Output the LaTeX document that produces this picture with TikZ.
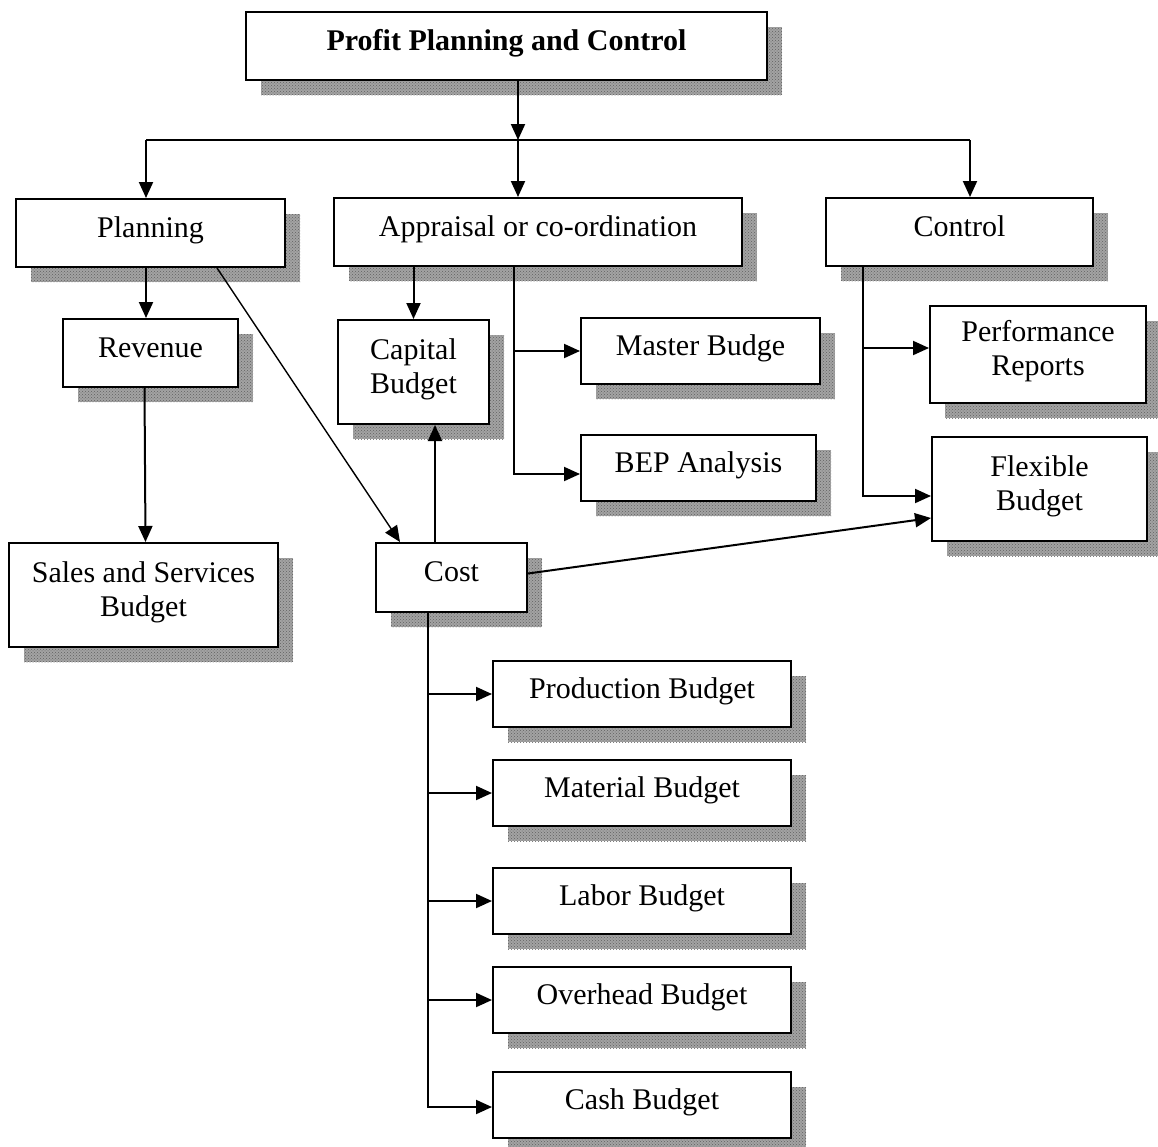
\documentclass[tikz,border=0pt]{standalone}
\usepackage{fontspec}
\setmainfont{Liberation Serif}
\usetikzlibrary{arrows.meta,shadows,calc,patterns}
\begin{document}
\begin{tikzpicture}[x=1pt,y=-1pt,
  box/.style={draw, line width=2pt, fill=white, inner sep=0pt, align=center,
    font=\fontsize{30}{34}\selectfont, text depth=12.5pt,
    drop shadow={shadow xshift=15pt, shadow yshift=-15pt, fill=black!36, opacity=1,
      postaction={pattern=crosshatch dots, pattern color=black!62}}},
  one/.style={text height=21pt, text depth=13pt},
  link/.style={line width=2pt},
  tip/.style={-{Triangle[length=16pt,width=14pt]}},
  arr/.style={link, tip}]
\useasboundingbox (0,0) rectangle (1158,1146);

% boxes
\node[box, one, minimum width=521pt, minimum height=68pt, font=\fontsize{30}{34}\selectfont\bfseries] (top) at (506.5,46) {Profit Planning and Control};
\node[box, one, minimum width=269pt, minimum height=68pt] (planning) at (150.5,233) {Planning};
\node[box, one, minimum width=408pt, minimum height=68pt] (appraisal) at (538,232) {Appraisal or co-ordination};
\node[box, one, minimum width=267pt, minimum height=68pt] (control) at (959.5,232) {Control};
\node[box, one, minimum width=175pt, minimum height=68pt] (revenue) at (150.5,353) {Revenue};
\node[box, minimum width=151pt, minimum height=104pt] (capital) at (413.5,372) {Capital\\Budget};
\node[box, one, minimum width=239pt, minimum height=66pt] (master) at (700.5,351) {Master Budge};
\node[box, one, minimum width=235pt, minimum height=66pt] (bep) at (698.5,468) {BEP Analysis};
\node[box, minimum width=216pt, minimum height=97pt] (perf) at (1038,354.5) {Performance\\Reports};
\node[box, minimum width=215pt, minimum height=104pt] (flex) at (1039.5,489) {Flexible\\Budget};
\node[box, minimum width=269pt, minimum height=104pt] (sales) at (143.5,595) {Sales and Services\\Budget};
\node[box, one, minimum width=151pt, minimum height=69pt] (cost) at (451.5,577.5) {Cost};
\node[box, one, minimum width=298pt, minimum height=66pt] (prod) at (642,694) {Production Budget};
\node[box, one, minimum width=298pt, minimum height=66pt] (mat) at (642,793) {Material Budget};
\node[box, one, minimum width=298pt, minimum height=66pt] (labor) at (642,901) {Labor Budget};
\node[box, one, minimum width=298pt, minimum height=66pt] (over) at (642,1000) {Overhead Budget};
\node[box, one, minimum width=298pt, minimum height=66pt] (cash) at (642,1105) {Cash Budget};

% top distribution
\coordinate (hub) at (518,140);
\coordinate (hl) at (146,140);
\coordinate (hr) at (970,140);
\draw[arr] (top.south -| hub) -- (hub);
\draw[link] (hl) -- (hr);
\draw[arr] (hl) -- (hl |- planning.north);
\draw[arr] (hub) -- (hub |- appraisal.north);
\draw[arr] (hr) -- (hr |- control.north);

% planning side
\draw[arr] (planning.south -| hl) -- (revenue.north -| hl);
\draw[arr] ([xshift=-6pt]revenue.south) -- ([xshift=2pt]sales.north);
\draw[line width=1.4pt, tip] ([xshift=66.5pt]planning.south) -- ([xshift=-51.5pt]cost.north);

% appraisal side
\draw[arr] (appraisal.south -| capital.north) -- (capital.north);
\coordinate (a1) at ([xshift=-24pt]appraisal.south);
\draw[arr] (a1) |- ([yshift=-6pt]bep.west);
\draw[arr] (a1 |- master.west) -- (master.west);

% control side
\coordinate (c0) at ([xshift=-96.5pt]control.south);
\coordinate (pin) at ([yshift=6.5pt]perf.west);
\draw[arr] (c0) |- ([yshift=-7pt]flex.west);
\draw[arr] (c0 |- pin) -- (pin);

% cost
\coordinate (k0) at ([xshift=-16.5pt]cost.north);
\draw[arr] (k0) -- (k0 |- capital.south);
\draw[arr] ([yshift=4pt]cost.east) -- ([yshift=-29pt]flex.west);
\coordinate (k1) at ([xshift=-23.5pt]cost.south);
\draw[arr] (k1) |- ([yshift=-2pt]cash.west);
\draw[arr] (k1 |- prod.west) -- (prod.west);
\draw[arr] (k1 |- mat.west) -- (mat.west);
\draw[arr] (k1 |- labor.west) -- (labor.west);
\draw[arr] (k1 |- over.west) -- (over.west);
\end{tikzpicture}
\end{document}
